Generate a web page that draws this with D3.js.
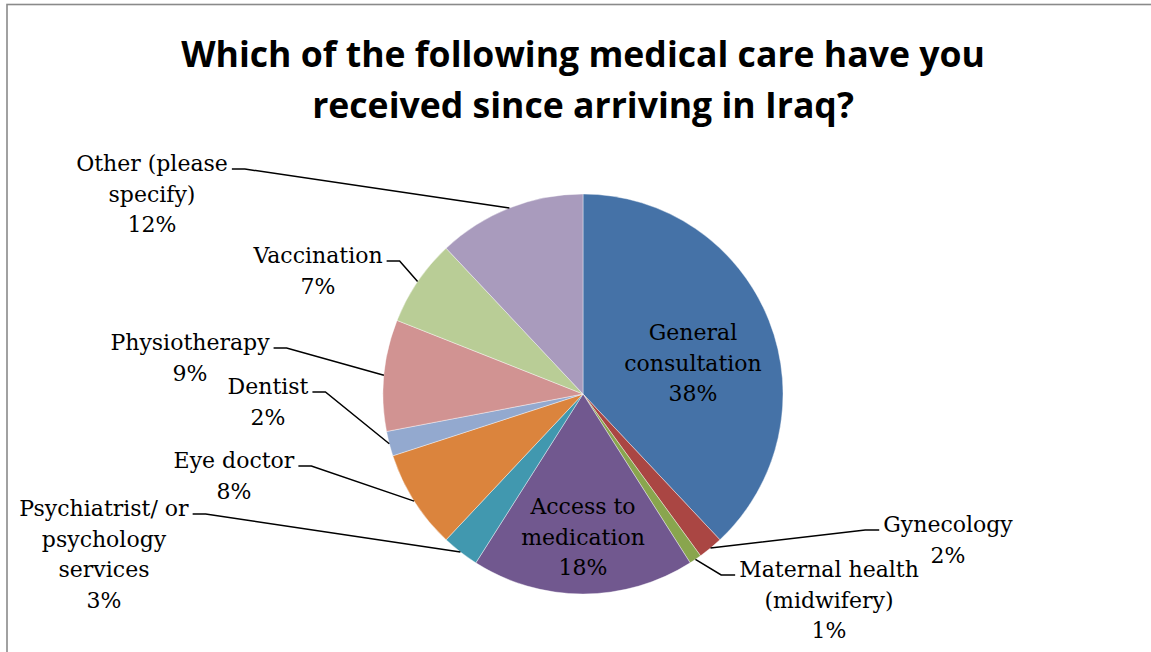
<!DOCTYPE html>
<html>
<head>
<meta charset="utf-8">
<script src="https://cdn.jsdelivr.net/npm/d3@7"></script>
<style>
  html, body { margin: 0; padding: 0; background: #fff; overflow: hidden; }
  svg { display: block; }
</style>
</head>
<body>
<svg id="chart" width="1151" height="652"></svg>
<script>
// Survey responses: medical care received since arriving in Iraq (share of respondents, %)
const categories = [
  "General consultation",
  "Gynecology",
  "Maternal health (midwifery)",
  "Access to medication",
  "Psychiatrist/ or psychology services",
  "Eye doctor",
  "Dentist",
  "Physiotherapy",
  "Vaccination",
  "Other (please specify)"
];
const values = [38, 2, 1, 18, 3, 8, 2, 9, 7, 12];
const colors = ["#4572A7", "#AA4643", "#89A54E", "#71588F", "#4198AF",
                "#DB843D", "#93A9CF", "#D19392", "#B9CD96", "#A99BBD"];
// How each category name is wrapped onto lines
const labelLines = [
  ["General", "consultation"],
  ["Gynecology"],
  ["Maternal health", "(midwifery)"],
  ["Access to", "medication"],
  ["Psychiatrist/ or", "psychology", "services"],
  ["Eye doctor"],
  ["Dentist"],
  ["Physiotherapy"],
  ["Vaccination"],
  ["Other (please", "specify)"]
];
const titleLines = ["Which of the following medical care have you", "received since arriving in Iraq?"];

// Label placement: centre x, first baseline y, whether a leader line is drawn and on which side
const labelLayout = [
  { x: 693, y: 340, inside: true },
  { x: 948, y: 532, side: "left" },
  { x: 829, y: 577, side: "left" },
  { x: 583, y: 514, inside: true },
  { x: 104, y: 516, side: "right" },
  { x: 234, y: 468, side: "right" },
  { x: 268, y: 394, side: "right" },
  { x: 190, y: 350, side: "right" },
  { x: 318, y: 263, side: "right" },
  { x: 152, y: 171, side: "right" }
];

const svg = d3.select("#chart");
const cx = 583, cy = 394, R = 200;
const lineH = 30.5;
const serif = "'DejaVu Serif', serif";

// chart frame
svg.append("rect")
  .attr("x", 7).attr("y", 4.5).attr("width", 1200).attr("height", 700)
  .attr("fill", "none").attr("stroke", "#8a8a8a").attr("stroke-width", 1.6);

// title
const title = svg.append("text")
  .attr("text-anchor", "middle")
  .attr("font-family", "'Open Sans', Lato, sans-serif")
  .attr("font-weight", 700)
  .attr("font-size", 35.6)
  .attr("fill", "#000");
titleLines.forEach((t, i) => {
  title.append("tspan").attr("x", 583).attr("y", 67 + i * 51).text(t);
});

const data = categories.map((c, i) => ({ name: c, value: values[i], i }));
const pie = d3.pie().value(d => d.value).sort(null);
const arcs = pie(data);
const arc = d3.arc().innerRadius(0).outerRadius(R);

const g = svg.append("g").attr("transform", `translate(${cx},${cy})`);
g.selectAll("path")
  .data(arcs)
  .join("path")
  .attr("d", arc)
  .attr("fill", d => colors[d.data.i])
  .attr("stroke", "#ffffff")
  .attr("stroke-width", 0.4);

// labels and leader lines
arcs.forEach(a => {
  const i = a.data.i;
  const L = labelLayout[i];
  const lines = labelLines[i].concat([d3.format(".0f")(a.data.value) + "%"]);
  const txt = svg.append("text")
    .attr("text-anchor", "middle")
    .attr("font-family", serif)
    .attr("font-size", 22)
    .attr("fill", "#000");
  lines.forEach((t, k) => {
    txt.append("tspan").attr("x", L.x).attr("y", L.y + k * lineH).text(t);
  });
  if (L.inside) return;

  // leader attaches to the end of the first line of text
  const firstW = txt.select("tspan").node().getComputedTextLength();
  const ang = (a.startAngle + a.endAngle) / 2;
  const px = cx + R * Math.sin(ang);
  const py = cy - R * Math.cos(ang);
  const hy = L.y - 2;
  let x0, x1;
  if (L.side === "right") {
    x0 = L.x + firstW / 2 + 4;
    x1 = x0 + 13;
  } else {
    x0 = L.x - firstW / 2 - 4;
    x1 = x0 - 14;
  }
  svg.append("path")
    .attr("d", d3.line()([[x0, hy], [x1, hy], [px, py]]))
    .attr("fill", "none")
    .attr("stroke", "#000")
    .attr("stroke-width", 1.5);
});
</script>
</body>
</html>
